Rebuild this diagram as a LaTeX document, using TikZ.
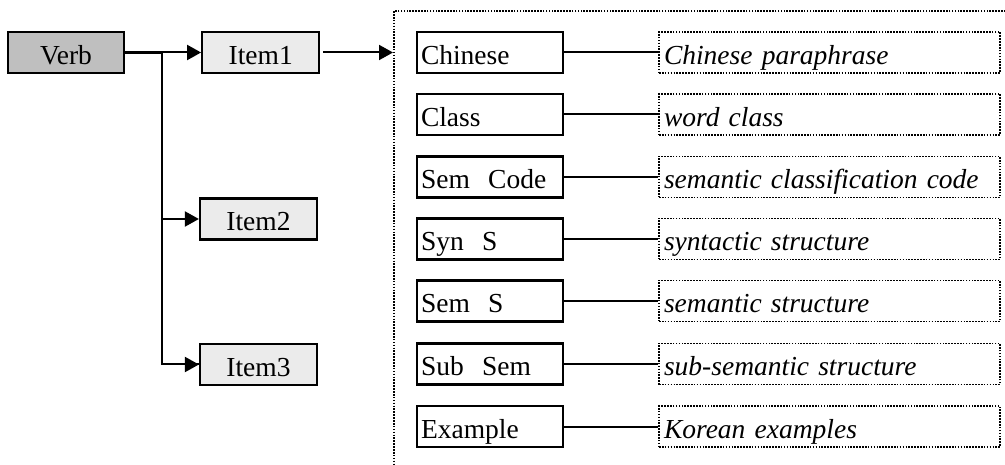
\documentclass[tikz,border=0pt]{standalone}
\usepackage{fontspec}
\setmainfont{Liberation Serif}
\usepackage{tikz}
\usetikzlibrary{positioning, arrows.meta}

\begin{document}
\begin{tikzpicture}[
x=1pt, y=-1pt,
font=\fontsize{27.5}{31}\selectfont,
basebox/.style={rectangle,
  draw=black,
  line width=2.2pt,
  minimum height=41pt,
  inner ysep=0pt,
  text height=24pt,
  text depth=0pt
},
verbbox/.style={basebox,
  fill=black!25,
  minimum width=116pt,
  align=center
},
itembox/.style={basebox,
  fill=black!8,
  minimum width=117pt,
  align=center
},
fieldbox/.style={basebox,
  inner xsep=4pt,
  text width=138pt,
  align=left
},
glossbox/.style={basebox,
  line width=1.8pt,
  dash pattern=on 1.6pt off 1.3pt,
  inner xsep=5pt,
  text width=331pt,
  align=left,
  font=\fontsize{27.5}{31}\selectfont\itshape
},
framebox/.style={rectangle,
  draw=black,
  line width=1.8pt,
  dash pattern=on 1.6pt off 1.3pt,
  minimum width=640pt,
  minimum height=480pt,
  anchor=north west
},
link/.style={line width=2pt},
>={Triangle[length=14pt,width=15pt]}
]
\clip (0,0) rectangle (1005,465);

\node[verbbox] (verb) at (66,52.5)
    {Verb};
\node[itembox, right= 76pt of verb] (item1)
    {Item1};
\node[itembox] (item2) at (258.5,219)
    {Item2};
\node[itembox] (item3) at (258.5,364.5)
    {Item3};

\node[framebox] (frame) at (393,10) {};

\node[fieldbox] (chinese) at (490,52.5)
    {Chinese};
\node[fieldbox] (class) at (490,114.5)
    {Class};
\node[fieldbox] (semcode) at (490,177)
    {Sem\ \ Code};
\node[fieldbox] (syns) at (490,239)
    {Syn\ \ S};
\node[fieldbox] (sems) at (490,301)
    {Sem\ \ S};
\node[fieldbox] (subsem) at (490,364)
    {Sub\ \ Sem};
\node[fieldbox] (example) at (490,426.5)
    {Example};

\node[glossbox, right= 94pt of chinese] (gchinese)
    {Chinese paraphrase};
\node[glossbox, right= 94pt of class] (gclass)
    {word class};
\node[glossbox, right= 94pt of semcode] (gsemcode)
    {semantic classification code};
\node[glossbox, right= 94pt of syns] (gsyns)
    {syntactic structure};
\node[glossbox, right= 94pt of sems] (gsems)
    {semantic structure};
\node[glossbox, right= 94pt of subsem] (gsubsem)
    {sub-semantic structure};
\node[glossbox, right= 94pt of example] (gexample)
    {Korean examples};

% verb to its items
\coordinate (split) at (162,52.5);
\draw[link, line width=3pt] (verb.east) -- (split);
\draw[link] (split) |- (item3.west);
\draw[->,link] (split) -- (item1.west);
\draw[->,link] (split |- item2) -- (item2.west);
\draw[->,link] (split |- item3) -- (item3.west);

% item to its fields
\draw[->,link, shorten <=3pt] (item1.east) -- (item1 -| frame.west);

% fields to glosses
\draw[link] (chinese.east) -- (gchinese.west);
\draw[link] (class.east) -- (gclass.west);
\draw[link] (semcode.east) -- (gsemcode.west);
\draw[link] (syns.east) -- (gsyns.west);
\draw[link] (sems.east) -- (gsems.west);
\draw[link] (subsem.east) -- (gsubsem.west);
\draw[link] (example.east) -- (gexample.west);
\end{tikzpicture}
\end{document}
